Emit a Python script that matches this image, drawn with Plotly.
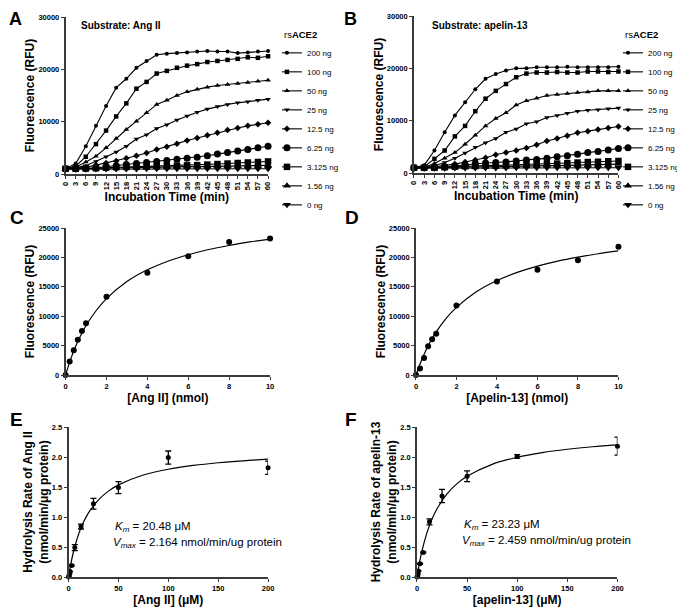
import plotly.graph_objects as go

# The page body adds an 8px margin, so the figure is drawn 8px in from the page corner.
PAGE_OFF = 8
W, H = 685 - PAGE_OFF, 607 - PAGE_OFF

# ---------------- DATA ----------------
time_min = list(range(0, 61, 3))
dose_labels = ["200 ng", "100 ng", "50 ng", "25 ng", "12.5 ng", "6.25 ng", "3.125 ng", "1.56 ng", "0 ng"]

# Panel A: substrate Ang II (RFU)
angii_200 = [1000, 2000, 5300, 9200, 13000, 16500, 18200, 20300, 21600, 22800, 23000, 23100, 23200, 23400, 23500, 23400, 23400, 23100, 23200, 23400, 23500]
angii_100 = [1000, 1500, 3300, 5700, 8300, 11000, 13500, 16300, 17600, 19200, 19700, 20300, 20700, 21000, 21400, 21600, 21800, 22000, 22300, 22200, 22500]
angii_50 = [1000, 1300, 2300, 3400, 5000, 6800, 8500, 10100, 11700, 13300, 14100, 15000, 15700, 16200, 16600, 16900, 17100, 17300, 17500, 17700, 17900]
angii_25 = [1000, 1200, 1600, 2400, 3300, 4200, 5300, 6700, 7500, 8700, 9400, 10300, 11100, 11800, 12400, 12900, 13300, 13600, 13800, 14100, 14300]
angii_12_5 = [1000, 1100, 1300, 1700, 2100, 2500, 3000, 3500, 4000, 4700, 5200, 5800, 6400, 6900, 7400, 7900, 8400, 8800, 9200, 9500, 9800]
angii_6_25 = [1000, 1000, 1100, 1200, 1400, 1600, 1800, 2000, 2200, 2400, 2600, 2800, 3000, 3200, 3500, 3800, 4100, 4400, 4700, 5000, 5300]
angii_3_125 = [1000, 1000, 1050, 1100, 1200, 1300, 1350, 1400, 1450, 1500, 1550, 1600, 1650, 1700, 1800, 1900, 2000, 2100, 2200, 2300, 2400]
angii_1_56 = [1000, 1000, 1000, 1050, 1100, 1150, 1200, 1200, 1250, 1300, 1300, 1350, 1400, 1400, 1450, 1500, 1500, 1550, 1600, 1600, 1650]
angii_0 = [900, 900, 900, 950, 950, 950, 950, 950, 1000, 1000, 1000, 1000, 1000, 1000, 1000, 1000, 1000, 1000, 1000, 1000, 1000]

# Panel B: substrate apelin-13 (RFU)
apl_200 = [1000, 1500, 4300, 7800, 11000, 13500, 16000, 18000, 18900, 19600, 20000, 20000, 20200, 20200, 20200, 20300, 20200, 20200, 20200, 20200, 20300]
apl_100 = [1000, 1200, 2700, 4300, 7000, 9000, 11800, 14200, 15700, 17000, 18300, 19000, 19200, 19200, 19300, 19200, 19200, 19400, 19400, 19300, 19400]
apl_50 = [1000, 1100, 1800, 2800, 3900, 5500, 7200, 9000, 10400, 11500, 13000, 13800, 14300, 14800, 15000, 15200, 15400, 15500, 15700, 15700, 15700]
apl_25 = [1000, 1100, 1400, 2000, 2800, 3800, 4900, 5800, 6600, 7800, 8400, 9400, 9800, 10600, 11000, 11400, 11800, 12000, 12100, 12300, 12400]
apl_12_5 = [1000, 1000, 1200, 1400, 1700, 2100, 2500, 2900, 3500, 3900, 4300, 4800, 5400, 6100, 6600, 7100, 7700, 8000, 8300, 8600, 8900]
apl_6_25 = [1000, 1000, 1100, 1200, 1400, 1600, 1800, 1900, 2000, 2100, 2300, 2500, 2600, 2800, 3100, 3300, 3600, 3900, 4100, 4400, 4700]
apl_3_125 = [1000, 1000, 1000, 1100, 1200, 1300, 1350, 1400, 1450, 1500, 1550, 1600, 1700, 1750, 1800, 1900, 2000, 2100, 2150, 2250, 2300]
apl_1_56 = [1000, 1000, 1000, 1000, 1100, 1100, 1150, 1200, 1200, 1250, 1300, 1300, 1350, 1400, 1400, 1450, 1500, 1550, 1600, 1600, 1700]
apl_0 = [900, 900, 900, 900, 950, 950, 950, 950, 950, 950, 1000, 1000, 1000, 1000, 1000, 1000, 1000, 1000, 1000, 1000, 1000]

# Panel C / D: substrate amount (nmol) vs fluorescence
nmol = [0, 0.2, 0.4, 0.6, 0.8, 1, 2, 4, 6, 8, 10]
c_points = [0, 2300, 4200, 6000, 7500, 8800, 13300, 17400, 20200, 22600, 23200]
d_points = [0, 1100, 2900, 4900, 6100, 7000, 11800, 15900, 17900, 19500, 21800]
fit_nmol = [0, 0.25, 0.5, 0.75, 1, 1.5, 2, 3, 4, 5, 6, 7, 8, 9, 10]
c_fit = [0, 2700, 4930, 6800, 8410, 10970, 13000, 15900, 17890, 19350, 20450, 21340, 22030, 22630, 23100]
d_fit = [0, 2310, 4250, 5900, 7330, 9660, 11500, 14190, 16070, 17450, 18520, 19370, 20050, 20620, 21100]

# Panel E / F: concentration (uM) vs hydrolysis rate
conc_uM = [0, 0.39, 0.78, 1.56, 3.125, 6.25, 12.5, 25, 50, 100, 200]
e_rate = [0, 0.02, 0.05, 0.09, 0.19, 0.49, 0.84, 1.22, 1.49, 1.99, 1.82]
e_err = [0, 0, 0, 0, 0.01, 0.05, 0.04, 0.09, 0.10, 0.11, 0.11]
f_rate = [0, 0.02, 0.05, 0.10, 0.22, 0.41, 0.92, 1.35, 1.68, 2.01, 2.18]
f_err = [0, 0, 0, 0, 0.01, 0.01, 0.05, 0.11, 0.09, 0.03, 0.15]
fit_uM = [0, 2, 5, 10, 15, 20, 30, 40, 50, 75, 100, 125, 150, 175, 200]
e_fit = [0, 0.193, 0.425, 0.710, 0.915, 1.069, 1.286, 1.431, 1.535, 1.700, 1.796, 1.859, 1.904, 1.937, 1.963]
f_fit = [0, 0.195, 0.436, 0.740, 0.965, 1.138, 1.386, 1.556, 1.679, 1.878, 1.996, 2.074, 2.129, 2.171, 2.203]

# ---------------- STYLE ----------------
FONT = "Liberation Sans, Arial, sans-serif"
AX = "#3a3a3a"
symbols = ["circle", "square", "triangle-up", "triangle-down", "diamond", "circle", "square", "triangle-up", "triangle-down"]
sizes = [4, 4.5, 5, 5, 5, 7, 6.5, 7, 7]


def fx(px):
    return max(px - PAGE_OFF, 0) / W


def fy(py):
    return 1 - max(py - PAGE_OFF, 0) / H


fig = go.Figure()

angii_series = [angii_200, angii_100, angii_50, angii_25, angii_12_5, angii_6_25, angii_3_125, angii_1_56, angii_0]
apl_series = [apl_200, apl_100, apl_50, apl_25, apl_12_5, apl_6_25, apl_3_125, apl_1_56, apl_0]

for i, (lab, ys) in enumerate(zip(dose_labels, angii_series)):
    fig.add_trace(go.Scatter(x=time_min, y=ys, mode="lines+markers", name=lab,
                             line=dict(color="black", width=1.1),
                             marker=dict(symbol=symbols[i], size=sizes[i], color="black"),
                             xaxis="x", yaxis="y", legend="legend", cliponaxis=False))
for i, (lab, ys) in enumerate(zip(dose_labels, apl_series)):
    fig.add_trace(go.Scatter(x=time_min, y=ys, mode="lines+markers", name=lab,
                             line=dict(color="black", width=1.1),
                             marker=dict(symbol=symbols[i], size=sizes[i], color="black"),
                             xaxis="x2", yaxis="y2", legend="legend2", cliponaxis=False))

# C, D
fig.add_trace(go.Scatter(x=fit_nmol, y=c_fit, mode="lines", line=dict(color="black", width=1.2, shape="spline"),
                         xaxis="x3", yaxis="y3", showlegend=False, cliponaxis=False))
fig.add_trace(go.Scatter(x=nmol, y=c_points, mode="markers", marker=dict(color="black", size=6),
                         xaxis="x3", yaxis="y3", showlegend=False, cliponaxis=False))
fig.add_trace(go.Scatter(x=fit_nmol, y=d_fit, mode="lines", line=dict(color="black", width=1.2, shape="spline"),
                         xaxis="x4", yaxis="y4", showlegend=False, cliponaxis=False))
fig.add_trace(go.Scatter(x=nmol, y=d_points, mode="markers", marker=dict(color="black", size=6),
                         xaxis="x4", yaxis="y4", showlegend=False, cliponaxis=False))

# E, F
fig.add_trace(go.Scatter(x=fit_uM, y=e_fit, mode="lines", line=dict(color="black", width=1.2, shape="spline"),
                         xaxis="x5", yaxis="y5", showlegend=False, cliponaxis=False))
fig.add_trace(go.Scatter(x=conc_uM, y=e_rate, mode="markers", marker=dict(color="black", size=5),
                         error_y=dict(type="data", array=e_err, color="black", thickness=1.3, width=3),
                         xaxis="x5", yaxis="y5", showlegend=False, cliponaxis=False))
fig.add_trace(go.Scatter(x=fit_uM, y=f_fit, mode="lines", line=dict(color="black", width=1.2, shape="spline"),
                         xaxis="x6", yaxis="y6", showlegend=False, cliponaxis=False))
fig.add_trace(go.Scatter(x=conc_uM, y=f_rate, mode="markers", marker=dict(color="black", size=5),
                         error_y=dict(type="data", array=f_err, color="black", thickness=1.3, width=3),
                         xaxis="x6", yaxis="y6", showlegend=False, cliponaxis=False))

tickfont = dict(family=FONT, size=7.5, color="black", weight="bold")
titlefont = dict(family=FONT, size=12, color="black", weight="bold")


def xax(domain, rng, title, tickvals, ticktext=None, angle=0, anchor="y", standoff=4):
    d = dict(domain=domain, range=rng, anchor=anchor, showgrid=False, zeroline=False, automargin=False,
             showline=True, linecolor=AX, linewidth=1.6, ticks="outside", ticklen=3,
             tickcolor=AX, tickwidth=1.2, tickvals=tickvals, tickfont=tickfont,
             tickangle=angle, title=dict(text=title, font=titlefont, standoff=standoff))
    if ticktext is not None:
        d["ticktext"] = ticktext
    return d


def yax(domain, rng, title, tickvals, ticktext, anchor="x", standoff=1):
    return dict(domain=domain, range=rng, anchor=anchor, showgrid=False, zeroline=False, automargin=False,
                showline=True, linecolor=AX, linewidth=1.6, ticks="outside", ticklen=3,
                tickcolor=AX, tickwidth=1.2, tickvals=tickvals, ticktext=ticktext, tickfont=tickfont,
                title=dict(text=title, font=titlefont, standoff=standoff))


time_ticks = [str(t) for t in time_min]
rfu30 = [0, 10000, 20000, 30000]
rfu25 = [0, 5000, 10000, 15000, 20000, 25000]
rate_ticks = [0, 0.5, 1.0, 1.5, 2.0, 2.5]
rate_text = ["0.0", "0.5", "1.0", "1.5", "2.0", "2.5"]

legend_common = dict(xanchor="left", yanchor="top", bgcolor="rgba(0,0,0,0)", borderwidth=0,
                     font=dict(family=FONT, size=8, color="black"), tracegroupgap=0, itemwidth=30,
                     indentation=-15,
                     title=dict(text="rs<b>ACE2</b>", font=dict(family=FONT, size=9.5, color="black")))

fig.update_layout(
    width=W, height=H, margin=dict(l=0, r=0, t=0, b=0),
    paper_bgcolor="white", plot_bgcolor="white",
    font=dict(family=FONT, color="black"),
    xaxis=xax([fx(66), fx(270)], [0, 60], "Incubation Time (min)", time_min, time_ticks, -90, "y", 1),
    yaxis=yax([fy(174), fy(17)], [0, 30000], "Fluorescence (RFU)", rfu30, [str(v) for v in rfu30], "x"),
    xaxis2=xax([fx(417), fx(623)], [0, 60], "Incubation Time (min)", time_min, time_ticks, -90, "y2", 1),
    yaxis2=yax([fy(173), fy(16)], [0, 30000], "Fluorescence (RFU)", rfu30, [str(v) for v in rfu30], "x2"),
    xaxis3=xax([fx(66), fx(272)], [0, 10], "[Ang II] (nmol)", [0, 2, 4, 6, 8, 10], None, 0, "y3"),
    yaxis3=yax([fy(375), fy(228)], [0, 25000], "Fluorescence (RFU)", rfu25, [str(v) for v in rfu25], "x3"),
    xaxis4=xax([fx(419), fx(623)], [0, 10], "[Apelin-13] (nmol)", [0, 2, 4, 6, 8, 10], None, 0, "y4"),
    yaxis4=yax([fy(375), fy(228)], [0, 25000], "Fluorescence (RFU)", rfu25, [str(v) for v in rfu25], "x4"),
    xaxis5=xax([fx(69), fx(270)], [0, 200], "[Ang II] (μM)", [0, 50, 100, 150, 200], None, 0, "y5", 3),
    yaxis5=yax([fy(577), fy(427)], [0, 2.5], "Hydrolysis Rate of Ang II<br>(nmol/min/μg protein)", rate_ticks, rate_text, "x5"),
    xaxis6=xax([fx(420), fx(622)], [0, 200], "[apelin-13] (μM)", [0, 50, 100, 150, 200], None, 0, "y6", 3),
    yaxis6=yax([fy(577), fy(427)], [0, 2.5], "Hydrolysis Rate of apelin-13<br>(nmol/min/μg protein)", rate_ticks, rate_text, "x6"),
    legend=dict(x=fx(284), y=fy(26), **legend_common),
    legend2=dict(x=fx(628), y=fy(26), **legend_common),
)

ann = []
# top-row letters anchored at the top edge of the figure so they are not clipped
for lab, px in [("A", 8), ("B", 345)]:
    ann.append(dict(text=lab, x=fx(px), y=1, xref="paper", yref="paper", xanchor="left", yanchor="top",
                    showarrow=False, borderpad=0, font=dict(family=FONT, size=18, color="black", weight="bold")))
for lab, px, py in [("C", 8, 218), ("D", 345, 218), ("E", 8, 419), ("F", 345, 419)]:
    ann.append(dict(text=lab, x=fx(px), y=fy(py), xref="paper", yref="paper", xanchor="left", yanchor="middle",
                    showarrow=False, font=dict(family=FONT, size=19, color="black", weight="bold")))
ann.append(dict(text="Substrate: Ang II", x=fx(80), y=fy(26), xref="paper", yref="paper", xanchor="left",
                yanchor="middle", showarrow=False, font=dict(family=FONT, size=10, color="black", weight="bold")))
ann.append(dict(text="Substrate: apelin-13", x=fx(433), y=fy(25), xref="paper", yref="paper", xanchor="left",
                yanchor="middle", showarrow=False, font=dict(family=FONT, size=10, color="black", weight="bold")))
for txt, px, py in [("<i>K<sub>m</sub></i> = 20.48 μM", 114, 527),
                    ("<i>V<sub>max</sub></i> = 2.164 nmol/min/ug protein", 112, 543),
                    ("<i>K<sub>m</sub></i> = 23.23 μM", 465, 525),
                    ("<i>V<sub>max</sub></i> = 2.459 nmol/min/ug protein", 463, 541)]:
    ann.append(dict(text=txt, x=fx(px), y=fy(py), xref="paper", yref="paper", xanchor="left", yanchor="middle",
                    showarrow=False, font=dict(family=FONT, size=11.5, color="black")))
fig.update_layout(annotations=ann)

fig.write_html("out.html")
